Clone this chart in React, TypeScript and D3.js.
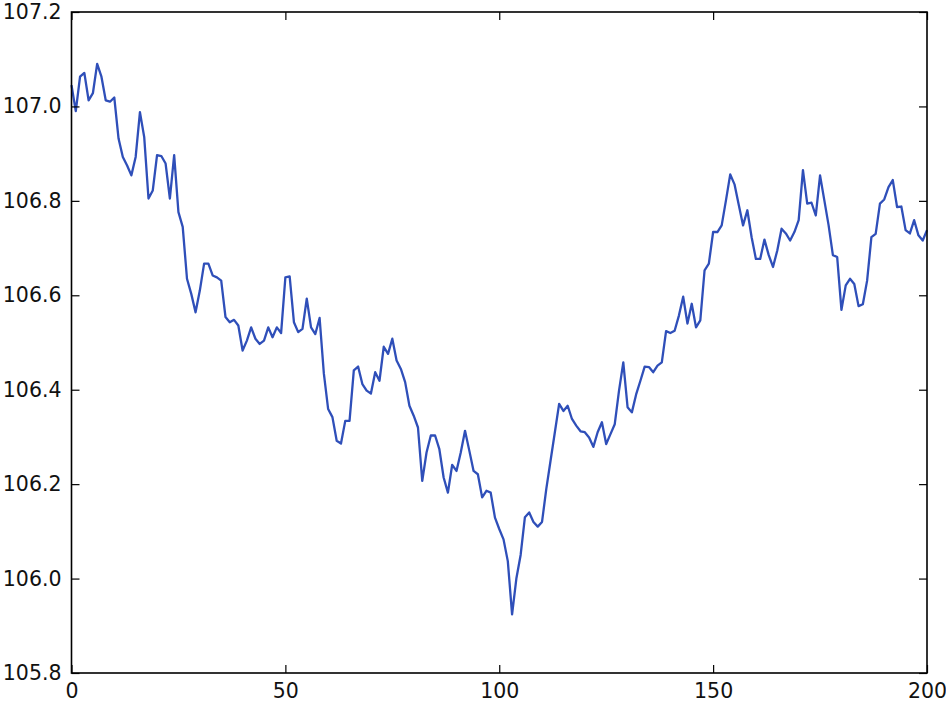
import { useEffect, useRef } from 'react';
import * as d3 from 'd3';

// price series, one value per step (0..200)
const prices: number[] = [
  107.045, 106.99, 107.063, 107.071, 107.013, 107.028, 107.09, 107.063, 107.013, 107.01,
  107.019, 106.932, 106.893, 106.875, 106.854, 106.893, 106.988, 106.935, 106.805, 106.822,
  106.897, 106.895, 106.879, 106.805, 106.897, 106.776, 106.745, 106.635, 106.603, 106.564,
  106.61, 106.667, 106.667, 106.642, 106.638, 106.631, 106.554, 106.543, 106.548, 106.536,
  106.483, 106.504, 106.532, 106.508, 106.497, 106.504, 106.532, 106.511, 106.532, 106.52,
  106.638, 106.64, 106.543, 106.522, 106.529, 106.593, 106.532, 106.518, 106.552, 106.434,
  106.359, 106.342, 106.292, 106.286, 106.334, 106.334, 106.441, 106.449, 106.412, 106.398,
  106.392, 106.437, 106.419, 106.491, 106.476, 106.508, 106.462, 106.444, 106.416, 106.366,
  106.345, 106.32, 106.207, 106.267, 106.303, 106.303, 106.274, 106.214, 106.182, 106.241,
  106.228, 106.267, 106.313, 106.271, 106.228, 106.221, 106.172, 106.186, 106.182, 106.129,
  106.105, 106.083, 106.037, 105.924, 106.0, 106.05, 106.13, 106.14, 106.12, 106.11,
  106.12, 106.19, 106.25, 106.31, 106.37, 106.355, 106.366, 106.338, 106.324, 106.312,
  106.31, 106.299, 106.279, 106.31, 106.331, 106.285, 106.306, 106.327, 106.398, 106.458,
  106.363, 106.352, 106.39, 106.419, 106.449, 106.448, 106.437, 106.451, 106.458, 106.524,
  106.52, 106.525, 106.557, 106.597, 106.54, 106.582, 106.532, 106.547, 106.653, 106.667,
  106.734, 106.734, 106.748, 106.801, 106.856, 106.835, 106.791, 106.748, 106.78, 106.723,
  106.677, 106.677, 106.718, 106.685, 106.66, 106.695, 106.741, 106.731, 106.716, 106.734,
  106.759, 106.865, 106.794, 106.796, 106.769, 106.854, 106.801, 106.748, 106.685, 106.681,
  106.569, 106.621, 106.635, 106.624, 106.577, 106.581, 106.631, 106.723, 106.73, 106.794,
  106.803, 106.829, 106.844, 106.787, 106.788, 106.738, 106.731, 106.759, 106.727, 106.716,
  106.738,
];

const xTicks = [0, 50, 100, 150, 200];
const yTicks = [105.8, 106.0, 106.2, 106.4, 106.6, 106.8, 107.0, 107.2];

const W = 946;
const H = 702;

const App = () => {
  const ref = useRef<SVGSVGElement>(null);

  useEffect(() => {
    if (!ref.current) return;
    const svg = d3.select(ref.current);
    svg.selectAll('*').remove();

    const margin = { top: 12, right: 19, bottom: 29, left: 71.5 };
    const width = W - margin.left - margin.right;
    const height = H - margin.top - margin.bottom;

    const g = svg.append('g').attr('transform', `translate(${margin.left},${margin.top})`);

    const x = d3.scaleLinear().domain([0, 200]).range([0, width]);
    const y = d3.scaleLinear().domain([105.8, 107.2]).range([height, 0]);

    // line
    const line = d3.line<number>()
      .x((_, i) => x(i))
      .y(d => y(d));
    g.append('path')
      .datum(prices)
      .attr('d', line)
      .attr('fill', 'none')
      .attr('stroke', '#2f4fb9')
      .attr('stroke-width', 2.3)
      .attr('stroke-linejoin', 'round');

    // axes with inward ticks (matplotlib classic look)
    const styleAxis = (sel: d3.Selection<SVGGElement, unknown, null, undefined>) => {
      sel.select('.domain').remove();
      sel.selectAll('line').attr('stroke', '#000').attr('stroke-width', 1.2);
      sel.selectAll('text')
        .attr('fill', '#111')
        .style('font-family', '"DejaVu Sans", sans-serif')
        .style('font-size', '20.5px');
    };

    g.append('g')
      .attr('transform', `translate(0,${height})`)
      .call(d3.axisBottom(x).tickValues(xTicks).tickSize(-8).tickPadding(10).tickFormat(d3.format('d')))
      .call(styleAxis);
    g.append('g')
      .call(d3.axisTop(x).tickValues(xTicks).tickSize(-8).tickFormat(() => ''))
      .call(styleAxis);
    g.append('g')
      .call(d3.axisLeft(y).tickValues(yTicks).tickSize(-8).tickPadding(10).tickFormat(d3.format('.1f')))
      .call(styleAxis);
    g.append('g')
      .attr('transform', `translate(${width},0)`)
      .call(d3.axisRight(y).tickValues(yTicks).tickSize(-8).tickFormat(() => ''))
      .call(styleAxis);

    // frame
    g.append('rect')
      .attr('width', width)
      .attr('height', height)
      .attr('fill', 'none')
      .attr('stroke', '#000')
      .attr('stroke-width', 1.6);
  }, []);

  return (
    <div style={{ position: 'absolute', left: 0, top: 0, width: W, height: H, background: '#fff' }}>
      <svg ref={ref} width={W} height={H} />
    </div>
  );
};

export default App;
